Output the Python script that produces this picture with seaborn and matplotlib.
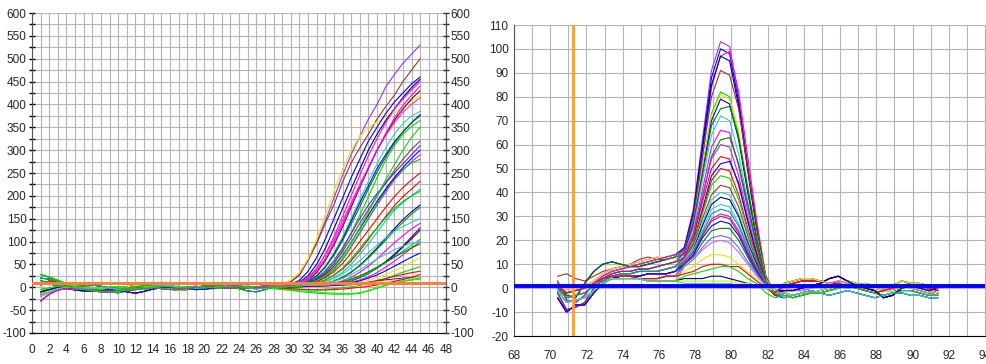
import numpy as np
import pandas as pd
import matplotlib
matplotlib.use("Agg")
import matplotlib.pyplot as plt
import seaborn as sns
from matplotlib.ticker import MultipleLocator
from matplotlib import font_manager

# ---------------- amplification plot data (left) ----------------
cycles = list(range(1, 46))

# baseline segments, cycles 1..27
B1 = [28, 22, 15, 8, 3, 0, -2, -5, -6, -4, -3, -2, 0, 1, 0, -2, -1, 0, 1, 2, 1, 0, 2, 3, 1, 0, 2]
B2 = [-30, -15, -6, -3, -5, -4, -6, -8, -9, -7, -5, -4, -2, -1, -3, -5, -4, -2, 0, 1, 0, -1, 0, 1, -1, -2, 0]
B3 = [10, 12, 5, 2, -2, -5, -8, -10, -11, -9, -6, -3, -1, 0, -2, -3, -1, 1, 2, 0, -1, 1, 3, 2, 0, 1, 3]
B4 = [-15, -8, -4, 1, 3, 2, -1, -3, -4, -2, 1, 4, 2, 0, -1, -4, -7, -5, -2, -1, 0, 2, 1, 0, -2, -3, -1]
B5 = [20, 18, 12, 5, 0, -4, -7, -9, -10, -12, -8, -4, -2, -1, -2, -4, -6, -4, -2, -1, 0, -1, -2, 1, 2, 1, 0]
B6 = [-5, -2, 2, 4, 2, -1, -3, -2, 0, 1, -1, -3, -4, -2, 0, 1, 2, 0, -1, -2, -3, -1, 1, 2, 0, -1, 1]
B7 = [5, 14, 10, 3, -1, 2, 6, 2, -4, -8, -7, -5, -2, 1, 2, 0, -2, -1, 1, 2, 1, 0, -1, -2, -1, 0, 2]
B8 = [-10, -5, 0, -2, -6, -8, -9, -7, -5, -6, -10, -13, -9, -4, -1, 0, -1, -3, -5, -4, -2, 0, 1, 0, -1, -2, -1]
B9 = [15, 8, 2, -1, 0, 3, 5, 2, -1, -3, -2, 0, 3, 4, 2, 1, -1, -2, 0, 3, 5, 3, 0, -3, -8, -10, -5]
B10 = [-20, -10, -3, 0, -1, -2, -1, 0, -2, -5, -6, -4, -1, 2, 4, 3, 1, 0, -1, -1, 0, 1, 2, 1, -1, -3, -2]

# rising segments, cycles 28..45
R1 = [3, 6, 12, 28, 58, 98, 145, 195, 245, 290, 330, 368, 400, 438, 465, 490, 510, 530]
R2 = [2, 5, 12, 26, 60, 95, 140, 180, 230, 272, 305, 335, 368, 395, 420, 450, 475, 500]
R3 = [4, 8, 16, 32, 62, 105, 158, 210, 258, 300, 330, 350, 362, 372, 382, 395, 408, 420]
R4 = [1, 3, 7, 15, 35, 65, 105, 150, 195, 240, 280, 320, 350, 380, 405, 425, 445, 460]
R5 = [0, 2, 5, 11, 25, 50, 85, 128, 172, 215, 258, 300, 335, 365, 390, 415, 437, 455]
R6 = [-1, 1, 4, 9, 20, 40, 72, 110, 155, 200, 245, 288, 325, 360, 390, 412, 432, 450]
R7 = [1, 2, 5, 10, 21, 42, 70, 105, 145, 185, 225, 262, 300, 332, 360, 383, 400, 415]
R8 = [-2, 0, 3, 7, 15, 32, 58, 92, 132, 175, 218, 260, 300, 335, 365, 390, 412, 430]
R9 = [2, 3, 5, 8, 14, 26, 46, 75, 110, 150, 192, 232, 270, 305, 335, 358, 375, 385]
R10 = [0, 1, 3, 6, 12, 24, 44, 72, 105, 145, 185, 222, 260, 290, 318, 340, 360, 378]
R11 = [-3, -2, 0, 3, 8, 16, 30, 52, 82, 118, 158, 198, 240, 278, 310, 335, 352, 365]
R12 = [1, 2, 4, 7, 13, 25, 44, 70, 102, 138, 176, 215, 252, 285, 315, 340, 360, 375]
R13 = [0, 1, 3, 5, 10, 18, 32, 52, 78, 108, 140, 170, 200, 228, 255, 280, 302, 320]
R14 = [-1, 0, 2, 5, 10, 20, 36, 58, 86, 118, 150, 180, 205, 228, 250, 270, 290, 310]
R15 = [2, 3, 4, 6, 9, 15, 25, 40, 62, 90, 120, 150, 180, 208, 235, 256, 275, 290]
R16 = [-2, -1, 1, 3, 6, 12, 22, 38, 60, 88, 118, 150, 182, 212, 238, 258, 272, 280]
R17 = [3, 2, 4, 5, 8, 13, 21, 34, 52, 75, 100, 125, 150, 175, 198, 218, 235, 250]
R18 = [1, 2, 3, 4, 6, 10, 16, 26, 40, 58, 80, 105, 130, 155, 178, 198, 215, 232]
R19 = [0, 1, 2, 3, 5, 8, 13, 21, 33, 50, 72, 95, 120, 145, 168, 185, 200, 215]
R20 = [-1, 0, 1, 2, 3, 5, 8, 13, 21, 33, 48, 66, 86, 107, 128, 148, 165, 180]
R21 = [2, 1, 2, 3, 4, 6, 9, 14, 22, 33, 47, 64, 83, 103, 124, 142, 160, 175]
R22 = [0, 1, 2, 3, 5, 8, 12, 19, 29, 42, 58, 75, 92, 108, 122, 133, 142, 150]
R23 = [1, 0, 1, 2, 3, 4, 6, 9, 14, 22, 33, 46, 62, 80, 97, 113, 128, 140]
R24 = [-1, 0, 1, 1, 2, 3, 4, 6, 9, 14, 21, 30, 42, 56, 72, 90, 110, 130]
R25 = [0, 1, 2, 2, 3, 4, 5, 7, 10, 15, 22, 31, 42, 55, 70, 88, 106, 125]
R26 = [0, 1, 1, 2, 3, 4, 5, 7, 10, 15, 22, 31, 42, 54, 66, 79, 92, 105]
R27 = [1, 2, 2, 3, 3, 4, 5, 6, 8, 11, 16, 23, 32, 44, 57, 71, 86, 100]
R28 = [0, -1, 0, 1, 2, 3, 5, 8, 12, 18, 25, 34, 44, 55, 66, 76, 86, 95]
R29 = [2, 1, 2, 2, 3, 3, 4, 5, 7, 10, 14, 20, 27, 36, 46, 56, 66, 75]
R30 = [0, 1, 1, 2, 2, 3, 4, 5, 6, 8, 11, 15, 21, 28, 36, 45, 55, 65]
R31 = [-2, -3, -4, -5, -6, -5, -4, -3, -1, 1, 4, 8, 13, 19, 26, 33, 39, 45]
R32 = [1, 0, 1, 2, 2, 3, 3, 4, 5, 6, 8, 11, 15, 19, 24, 28, 32, 35]
R33 = [0, 1, 1, 2, 2, 3, 3, 4, 5, 6, 8, 10, 13, 16, 18, 20, 21, 22]
R34 = [2, 3, 3, 4, 4, 5, 5, 6, 7, 8, 9, 10, 12, 14, 16, 18, 20, 22]
R35 = [-3, -5, -7, -9, -11, -13, -14, -15, -15, -15, -13, -8, -2, 4, 9, 13, 16, 18]
R36 = [-2, -4, -6, -8, -9, -10, -12, -13, -14, -14, -12, -7, -1, 5, 10, 14, 17, 20]
R37 = [0, -2, -3, -4, -5, -6, -6, -5, -4, -2, 0, 2, 5, 9, 13, 17, 22, 28]
R38 = [1, 2, 3, 5, 9, 16, 28, 46, 70, 98, 128, 158, 188, 215, 240, 262, 282, 300]
R39 = [0, 1, 2, 3, 5, 9, 16, 27, 42, 62, 85, 108, 130, 152, 172, 188, 200, 210]
R40 = [1, 1, 2, 3, 4, 6, 9, 13, 19, 28, 38, 50, 62, 72, 82, 90, 96, 100]
R41 = [0, 2, 4, 9, 18, 36, 62, 98, 138, 180, 220, 262, 300, 335, 370, 398, 420, 440]
R42 = [-1, 0, 2, 4, 8, 15, 26, 44, 68, 98, 130, 165, 200, 235, 268, 300, 328, 350]

amp_wells = [
    (B1, R1, "#9933ff"), (B2, R2, "#993333"), (B3, R3, "#e8e800"), (B4, R4, "#0000ff"),
    (B5, R5, "#000080"), (B6, R6, "#ff00ff"), (B7, R7, "#ff22dd"), (B8, R8, "#800000"),
    (B9, R9, "#33cccc"), (B10, R10, "#0000ff"), (B1, R11, "#00dd00"), (B2, R12, "#008000"),
    (B3, R13, "#993333"), (B4, R14, "#3333ff"), (B5, R15, "#ff00ff"), (B6, R16, "#00cc00"),
    (B7, R17, "#ff0000"), (B8, R18, "#ff0000"), (B9, R19, "#00cccc"), (B10, R20, "#000099"),
    (B1, R21, "#009900"), (B2, R22, "#33cccc"), (B3, R23, "#ff00ff"), (B4, R24, "#800000"),
    (B5, R25, "#0000ff"), (B6, R26, "#00dd00"), (B7, R27, "#ff00ff"), (B8, R28, "#008000"),
    (B9, R29, "#0000ff"), (B10, R30, "#e8e800"), (B1, R31, "#00dd00"), (B2, R32, "#ff0000"),
    (B3, R33, "#0000ff"), (B4, R34, "#e8e800"), (B5, R35, "#00dd00"), (B6, R36, "#00ff00"),
    (B7, R37, "#ff0000"), (B8, R38, "#0000ff"), (B9, R39, "#00cc00"), (B10, R40, "#33cccc"),
    (B2, R41, "#ff00ff"), (B3, R42, "#00dd00"),
]
amp_threshold = 10

# ---------------- melt curve data (right) ----------------
temps = list(np.round(np.arange(70.4, 91.45, 0.5), 1))

# pre-peak segments, 70.4 .. 76.9
P1 = [1, -3, -4, 2, 7, 10, 11, 10, 9, 9, 10, 11, 12, 13]
P2 = [3, -5, -6, -3, 2, 5, 7, 8, 9, 10, 11, 12, 13, 14]
P3 = [-2, -9, -8, -6, 0, 4, 6, 7, 7, 8, 8, 9, 10, 11]
P4 = [0, -4, -3, -2, 1, 3, 5, 6, 6, 7, 7, 7, 8, 9]
P5 = [5, 6, 4, 3, 5, 7, 8, 9, 10, 12, 13, 12, 12, 13]
P6 = [-4, -10, -7, -7, -2, 2, 4, 5, 5, 5, 6, 6, 6, 7]
P7 = [1, -2, -1, 0, 2, 4, 5, 5, 5, 4, 4, 4, 5, 5]
P8 = [-1, -6, -5, -4, -1, 2, 4, 4, 4, 4, 3, 3, 3, 3]
P9 = [2, -1, 0, 1, 3, 6, 8, 9, 10, 11, 12, 13, 12, 13]

# tail segments, 82.9 .. 91.4
T1 = [-2, -3, -2, -2, -1, 0, 2, 3, 2, 1, 0, -1, -1, 0, 1, 0, -1, -2]
T2 = [1, 2, 3, 3, 3, 2, 2, 1, 0, -1, -2, -1, 0, 1, 2, 1, 0, -1]
T3 = [-3, -4, -3, -2, -2, -1, 0, 1, 0, -1, -2, -3, -2, -1, -1, -2, -3, -3]
T4 = [-1, -1, 0, 1, 2, 4, 5, 3, 1, 0, -1, -4, -3, 0, 1, 0, -1, 0]
T5 = [2, 3, 4, 4, 3, 2, 1, 0, 1, 2, 1, 0, 1, 3, 2, 2, 1, 0]
T6 = [-4, -3, -2, -1, -2, -3, -2, -1, -2, -3, -4, -3, -2, -2, -3, -3, -4, -4]
T7 = [0, -1, -1, 0, 1, 2, 3, 2, 1, 0, 0, -1, 0, 1, 0, -1, -2, -3]

# peak segments, 77.4 .. 82.4
K1 = [17, 33, 62, 91, 103, 101, 80, 52, 26, 4, -3]
K2 = [17, 32, 60, 88, 100, 98, 78, 50, 25, 4, -3]
K3 = [15, 28, 54, 84, 97, 99, 82, 55, 28, 5, -2]
K4 = [16, 31, 58, 85, 97, 95, 76, 49, 24, 4, -3]
K5 = [16, 30, 55, 80, 91, 89, 75, 50, 26, 5, -2]
K6 = [15, 27, 50, 73, 82, 80, 64, 41, 21, 3, -3]
K7 = [15, 27, 50, 72, 81, 79, 66, 43, 22, 4, -2]
K8 = [15, 27, 48, 70, 79, 77, 62, 40, 20, 3, -3]
K9 = [14, 26, 47, 68, 75, 76, 63, 42, 21, 3, -2]
K10 = [14, 25, 45, 64, 72, 70, 56, 36, 18, 3, -3]
K11 = [14, 23, 41, 59, 66, 65, 51, 33, 17, 3, -3]
K12 = [13, 21, 38, 55, 62, 63, 52, 35, 18, 3, -2]
K13 = [13, 22, 38, 54, 60, 59, 47, 30, 15, 2, -3]
K14 = [13, 21, 36, 50, 55, 54, 43, 28, 14, 2, -3]
K15 = [12, 19, 33, 47, 52, 53, 44, 28, 14, 2, -2]
K16 = [12, 19, 32, 45, 50, 49, 39, 25, 13, 2, -3]
K17 = [12, 19, 31, 43, 47, 46, 37, 24, 12, 2, -3]
K18 = [12, 18, 29, 39, 43, 42, 34, 22, 11, 2, -2]
K19 = [12, 17, 27, 37, 40, 39, 31, 20, 10, 2, -2]
K20 = [11, 16, 26, 35, 38, 37, 30, 19, 10, 1, -3]
K21 = [11, 16, 24, 33, 35, 34, 27, 18, 9, 1, -2]
K22 = [11, 15, 23, 31, 33, 32, 26, 17, 8, 1, -3]
K23 = [11, 15, 22, 29, 31, 30, 24, 16, 8, 1, -2]
K24 = [10, 14, 22, 28, 30, 29, 23, 15, 8, 1, -3]
K25 = [10, 14, 21, 26, 28, 27, 22, 14, 7, 1, -2]
K26 = [10, 13, 19, 24, 25, 25, 20, 13, 6, 1, -3]
K27 = [9, 12, 17, 21, 22, 21, 17, 11, 6, 1, -2]
K28 = [9, 12, 16, 19, 20, 19, 15, 10, 5, 1, -2]
K29 = [7, 9, 12, 14, 14, 13, 10, 7, 4, 0, -2]
K30 = [6, 7, 9, 10, 10, 9, 9, 6, 3, 0, -2]
K31 = [5, 6, 7, 8, 9, 9, 7, 4, 2, -2, -4]
K32 = [4, 4, 4, 5, 5, 4, 3, 2, 1, 0, -1]
K33 = [3, 3, 3, 3, 3, 3, 2, 2, 1, 0, -1]
K34 = [2, 2, 2, 2, 2, 2, 1, 1, 1, 0, 0]

melt_wells = [
    (P1, K1, T1, "#9933ff"), (P2, K2, T2, "#0000ff"), (P9, K3, T3, "#ff00ff"), (P1, K4, T4, "#000080"),
    (P5, K5, T5, "#993333"), (P2, K6, T6, "#00dd00"), (P9, K7, T7, "#e8e800"), (P3, K8, T1, "#0000ff"),
    (P1, K9, T2, "#008000"), (P3, K10, T3, "#33cccc"), (P2, K11, T4, "#ff00ff"), (P4, K12, T5, "#008000"),
    (P3, K13, T6, "#9933ff"), (P4, K14, T7, "#ff0000"), (P6, K15, T1, "#0000ff"), (P4, K16, T2, "#ff0000"),
    (P6, K17, T3, "#00dd00"), (P3, K18, T4, "#993333"), (P4, K19, T5, "#33cccc"), (P6, K20, T6, "#000080"),
    (P7, K21, T7, "#33cccc"), (P4, K22, T1, "#009999"), (P6, K23, T2, "#ff00ff"), (P7, K24, T3, "#993333"),
    (P6, K25, T4, "#0000ff"), (P7, K26, T5, "#008000"), (P8, K27, T6, "#6666ff"), (P7, K28, T7, "#cc66ff"),
    (P8, K29, T1, "#e8e800"), (P7, K30, T2, "#ff0000"), (P8, K31, T3, "#00dd00"), (P8, K32, T4, "#000080"),
    (P8, K33, T5, "#e8e800"), (P8, K34, T6, "#33cccc"),
]
melt_marker_temp = 71.25
melt_baseline = 1.0

# ---------------- build tables ----------------
amp_rows = []
amp_palette = {}
for i, (base, rise, col) in enumerate(amp_wells):
    name = f"A{i:02d}"
    amp_palette[name] = col
    for c, v in zip(cycles, base + rise):
        amp_rows.append((name, c, v))
amp_df = pd.DataFrame(amp_rows, columns=["well", "cycle", "rfu"])

melt_rows = []
melt_palette = {}
for i, (pre, peak, tail, col) in enumerate(melt_wells):
    name = f"M{i:02d}"
    melt_palette[name] = col
    for t, v in zip(temps, pre + peak + tail):
        melt_rows.append((name, t, v))
melt_df = pd.DataFrame(melt_rows, columns=["well", "temp", "dfdt"])

# ---------------- figure ----------------
sns.set_style("white")
available = {f.name for f in font_manager.fontManager.ttflist}
fams = [f for f in ["Liberation Sans Narrow", "Liberation Sans", "DejaVu Sans"] if f in available]
plt.rcParams["font.family"] = fams
plt.rcParams["font.size"] = 8
plt.rcParams["axes.unicode_minus"] = False

fig = plt.figure(figsize=(9.87, 3.64), dpi=100)
axL = fig.add_axes([0.0324, 0.0852, 0.4195, 0.879])
axR = fig.add_axes([0.5208, 0.0769, 0.4772, 0.8544])

grid_col = "#b4b4b4"
tick_font = 8.5

# left panel
sns.lineplot(data=amp_df, x="cycle", y="rfu", hue="well", palette=amp_palette,
             legend=False, estimator=None, linewidth=0.8, ax=axL)
axL.axhline(amp_threshold, color="#ff7f3f", lw=2.2, zorder=5)
axL.set_xlim(0, 48)
axL.set_ylim(-100, 600)
axL.xaxis.set_major_locator(MultipleLocator(2))
axL.xaxis.set_minor_locator(MultipleLocator(1))
axL.yaxis.set_major_locator(MultipleLocator(50))
axL.yaxis.set_minor_locator(MultipleLocator(25))
axL.grid(which="both", color=grid_col, lw=0.8)
axL.set_axisbelow(True)
axL.set_xlabel("")
axL.set_ylabel("")
axL.tick_params(axis="both", which="both", direction="inout", color="black",
                labelsize=tick_font, length=4, width=1, pad=2)
axL.tick_params(axis="x", which="both", pad=6)
axL.spines["top"].set_visible(False)
axL.spines["left"].set_color("#555555")
axL.spines["right"].set_color("#555555")
axL.spines["bottom"].set_color("black")
axL2 = axL.twinx()
axL2.set_ylim(-100, 600)
axL2.yaxis.set_major_locator(MultipleLocator(50))
axL2.yaxis.set_minor_locator(MultipleLocator(25))
axL2.tick_params(axis="y", which="both", direction="inout", length=4, width=1,
                 labelsize=tick_font, pad=1)
for s in ["top", "left", "bottom"]:
    axL2.spines[s].set_visible(False)
axL2.spines["right"].set_color("#555555")

# right panel
sns.lineplot(data=melt_df, x="temp", y="dfdt", hue="well", palette=melt_palette,
             legend=False, estimator=None, linewidth=0.8, ax=axR)
axR.axvline(melt_marker_temp, color="#ff9933", lw=2.0, zorder=5)
axR.axhline(melt_baseline, color="#0000ff", lw=2.8, zorder=6)
axR.set_xlim(68, 94)
axR.set_ylim(-20, 110)
axR.xaxis.set_major_locator(MultipleLocator(2))
axR.xaxis.set_minor_locator(MultipleLocator(1))
axR.yaxis.set_major_locator(MultipleLocator(10))
axR.grid(which="both", color=grid_col, lw=0.8)
axR.set_axisbelow(True)
axR.set_xlabel("")
axR.set_ylabel("")
axR.tick_params(axis="both", which="both", direction="inout", color="black",
                labelsize=tick_font, length=4, width=1, pad=2)
axR.tick_params(axis="x", which="both", pad=8)
axR.spines["top"].set_visible(False)
axR.spines["right"].set_color(grid_col)
axR.spines["left"].set_color("#555555")
axR.spines["bottom"].set_color("black")

fig.savefig("out.png", dpi=100)
